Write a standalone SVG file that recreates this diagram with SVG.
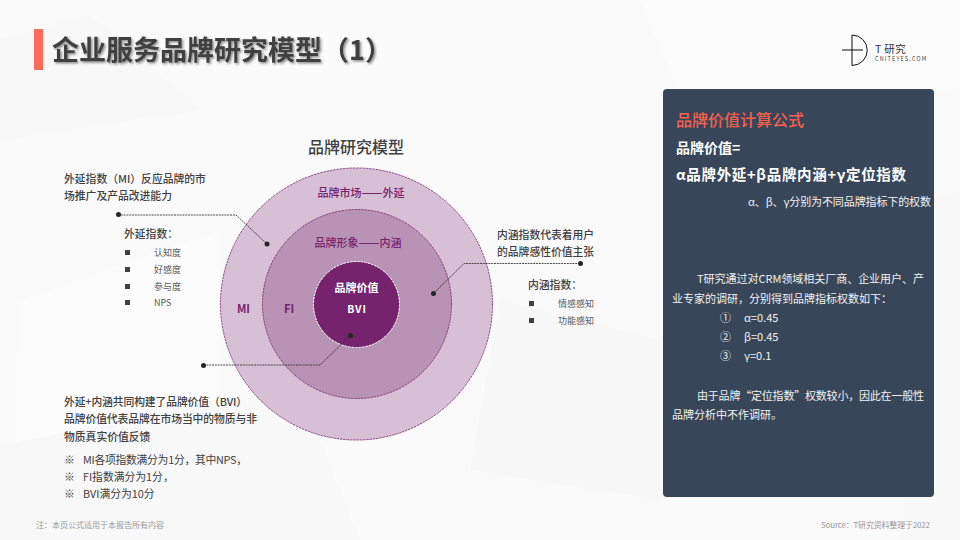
<svg xmlns="http://www.w3.org/2000/svg" width="960" height="540" viewBox="0 0 960 540">
<style>
text{font-family:"Noto Sans CJK SC","Noto Sans",sans-serif;}
.t11{font-size:10.800px;font-weight:500;fill:#404040}
.t11r{font-size:10.800px;fill:#404040}
.s9{font-size:9px;fill:#595959}
.ring{font-size:11px;font-weight:500;fill:#75236d;text-anchor:middle}
.dash{font-size:12.500px}
.big{font-weight:700;fill:#fff}
.w{font-size:11px;fill:#f2f2f2}
.bul{fill:#404040}
.conn{fill:none;stroke:#262626;stroke-width:.8;stroke-dasharray:2 .8}
.dot{fill:#262626}
.c{stroke:#75236d;stroke-width:.8;stroke-dasharray:2.500 .8}
</style>
<defs>
<filter id="sh" x="-5%" y="-20%" width="110%" height="150%"><feDropShadow dx="1.500" dy="1.500" stdDeviation="1.300" flood-color="#000" flood-opacity=".45"/></filter>
</defs>
<g id="background">
<rect width="960" height="540" fill="#fafafa"/>
<polygon points="0,40 90,15 200,110 0,140" fill="#f8f8f8"/>
<polygon points="150,0 560,0 420,90 260,75" fill="#fbfbfb"/>
<polygon points="20,300 220,230 220,400 15,445" fill="#fcfcfc"/>
<polygon points="0,445 300,390 360,540 0,540" fill="#f8f8f8"/>
<polygon points="640,0 960,0 960,90 690,120" fill="#fcfcfc"/>
<polygon points="500,300 660,340 660,500 470,470" fill="#f7f7f7"/>
<polygon points="935,200 960,190 960,540 900,540" fill="#f8f8f8"/>
</g>
<g id="header">
<rect x="34" y="29" width="9" height="41" fill="#ff6b5b"/>
<text x="52" y="60" font-size="27" font-weight="700" fill="#404040" filter="url(#sh)">企业服务品牌研究模型（1）</text>
</g>
<g id="logo">
<path d="M842 50H863M852 35V65.500A15.250 15.250 0 0 0 852 35Z" fill="none" stroke="#111" stroke-width="1"/>
<text x="875" y="52.500" font-size="10.500" letter-spacing=".5" fill="#333">T<tspan dx="2.500">研究</tspan></text>
<text x="875" y="61" font-size="5.500" letter-spacing="1.150" font-family="Liberation Sans" fill="#444">CNITEYES.COM</text>
</g>
<g id="chart-title"><text x="356" y="153" text-anchor="middle" font-size="16" font-weight="500" fill="#404040">品牌研究模型</text></g>
<g id="outer">
<circle cx="356.500" cy="304" r="136" fill="#d7c0d5" class="c"/>
<text x="361" y="197" class="ring">品牌市场<tspan class="dash">——</tspan>外延</text>
<text x="243.500" y="312.500" class="ring" style="font-weight:700">MI</text>
</g>
<g id="middle">
<circle cx="357" cy="304" r="94.500" fill="#b993b5" class="c"/>
<text x="358" y="246.500" class="ring">品牌形象<tspan class="dash">——</tspan>内涵</text>
<text x="289" y="312.500" class="ring" style="font-weight:700">FI</text>
</g>
<g id="inner">
<circle cx="356.500" cy="304.500" r="43" fill="#75236d" stroke="#fff" stroke-width="1" stroke-dasharray="2.500 1"/>
<text x="356.500" y="291.500" text-anchor="middle" font-size="11" font-weight="700" fill="#fff">品牌价值</text>
<text x="357" y="312.500" text-anchor="middle" font-size="10.500" font-weight="700" letter-spacing=".8" fill="#fff">BVI</text>
</g>
<g id="connectors">
<polyline class="conn" points="118,215 236,215 267,244"/>
<polyline class="conn" points="433.500,293.500 464,263.500 580,263.500"/>
<polyline class="conn" points="350.500,335.500 320,365 203,365"/>
<circle class="dot" cx="118.500" cy="214.500" r="2.500"/><circle class="dot" cx="267" cy="244" r="2.500"/>
<circle class="dot" cx="433.500" cy="293.500" r="2.500"/><circle class="dot" cx="580.500" cy="263.500" r="2.500"/>
<circle class="dot" cx="350.500" cy="335.500" r="2.500"/><circle class="dot" cx="203.500" cy="365.500" r="2.500"/>
</g>
<g id="left-top">
<text x="64" y="183" class="t11">外延指数（MI）反应品牌的市</text>
<text x="64" y="200" class="t11">场推广及产品改进能力</text>
<text x="124" y="238" class="t11">外延指数：</text>
<rect class="bul" x="125" y="250" width="5" height="5"/><text x="154" y="256" class="s9">认知度</text>
<rect class="bul" x="125" y="267" width="5" height="5"/><text x="154" y="273" class="s9">好感度</text>
<rect class="bul" x="125" y="284" width="5" height="5"/><text x="154" y="290" class="s9">参与度</text>
<rect class="bul" x="125" y="300" width="5" height="5"/><text x="154" y="306" class="s9">NPS</text>
</g>
<g id="right-notes">
<text x="497" y="239" class="t11">内涵指数代表着用户</text>
<text x="497" y="256" class="t11">的品牌感性价值主张</text>
<text x="528" y="289" class="t11">内涵指数：</text>
<rect class="bul" x="529" y="301" width="5" height="5"/><text x="558" y="307" class="s9">情感感知</text>
<rect class="bul" x="529" y="318" width="5" height="5"/><text x="558" y="324" class="s9">功能感知</text>
</g>
<g id="left-bottom">
<text x="64" y="406" class="t11" textLength="183">外延+内涵共同构建了品牌价值（BVI）</text>
<text x="64" y="423" class="t11" textLength="193">品牌价值代表品牌在市场当中的物质与非</text>
<text x="64" y="441" class="t11">物质真实价值反馈</text>
<text x="64" y="464" class="t11r">※</text><text x="83" y="464" class="t11r" textLength="164">MI各项指数满分为1分，其中NPS，</text>
<text x="64" y="481" class="t11r">※</text><text x="83" y="481" class="t11r">FI指数满分为1分，</text>
<text x="64" y="498" class="t11r">※</text><text x="83" y="498" class="t11r">BVI满分为10分</text>
</g>
<g id="panel">
<rect x="663" y="89" width="271" height="408" rx="4" fill="#374759"/>
<text x="676" y="126" font-size="16" font-weight="500" fill="#f9604c">品牌价值计算公式</text>
<text x="676" y="153" class="big" font-size="14">品牌价值=</text>
<text x="676" y="180" class="big" font-size="14.500" textLength="230">α品牌外延+β品牌内涵+γ定位指数</text>
<text x="748" y="206" class="w" textLength="183">α、β、γ分别为不同品牌指标下的权数</text>
<text x="697" y="283" class="w" textLength="227">T研究通过对CRM领域相关厂商、企业用户、产</text>
<text x="672" y="303" class="w">业专家的调研，分别得到品牌指标权数如下：</text>
<text x="720" y="322" class="w">①</text><text x="744" y="322" class="w">α=0.45</text>
<text x="720" y="341" class="w">②</text><text x="744" y="341" class="w">β=0.45</text>
<text x="720" y="360" class="w">③</text><text x="744" y="360" class="w">γ=0.1</text>
<text x="697" y="400" class="w" textLength="227">由于品牌“定位指数”权数较小，因此在一般性</text>
<text x="672" y="419" class="w">品牌分析中不作调研。</text>
</g>
<g id="footer">
<text x="36" y="528" font-size="8" fill="#999">注：</text><text x="52" y="528" font-size="8" fill="#999">本页公式适用于本报告所有内容</text>
<text x="930" y="528" text-anchor="end" font-size="8" fill="#999" textLength="109">Source：T研究资料整理于2022</text>
</g>
</svg>
